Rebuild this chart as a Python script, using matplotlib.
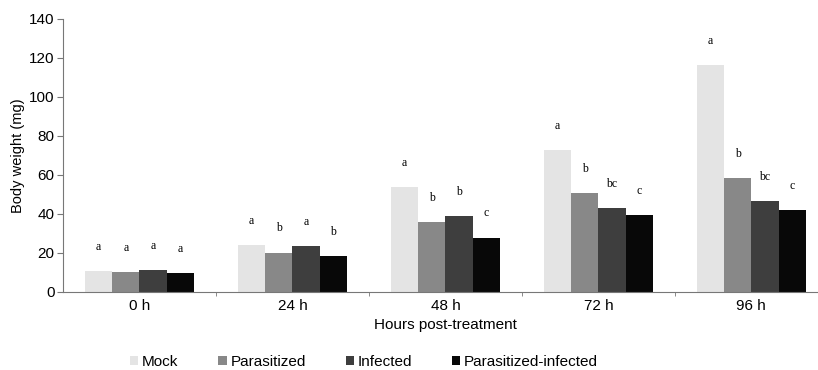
import numpy as np
import matplotlib
matplotlib.use("Agg")
import matplotlib.pyplot as plt

plt.rcParams['font.family'] = ['Liberation Sans', 'DejaVu Sans']

hours = ['0 h', '24 h', '48 h', '72 h', '96 h']
groups = ['Mock', 'Parasitized', 'Infected', 'Parasitized-infected']
mock = [10.9, 24.0, 53.6, 72.7, 116.3]
parasitized = [10.4, 20.2, 35.8, 50.9, 58.6]
infected = [11.3, 23.6, 39.0, 43.2, 46.4]
par_inf = [9.9, 18.6, 27.9, 39.4, 41.8]
letters = [
    ['a', 'a', 'a', 'a', 'a'],
    ['a', 'b', 'b', 'b', 'b'],
    ['a', 'a', 'b', 'bc', 'bc'],
    ['a', 'b', 'c', 'c', 'c'],
]
COLORS = ['#e4e4e4', '#888888', '#3e3e3e', '#080808']

fig = plt.figure(figsize=(8.18, 3.7), dpi=100)
ax = fig.add_axes([0.077, 0.211, 0.935, 0.738])

x = np.arange(len(hours))
w = 0.178
series = [mock, parasitized, infected, par_inf]
for i, (vals, col, name) in enumerate(zip(series, COLORS, groups)):
    pos = x + (i - 1.5) * w
    ax.bar(pos, vals, width=w, color=col, label=name, edgecolor='none')
    for p, v, lab in zip(pos, vals, letters[i]):
        ax.annotate(lab, (p, v), xytext=(0, 13), textcoords='offset points',
                    ha='center', va='bottom', fontsize=8.5, family='Liberation Serif')

ax.set_xlim(-0.5, 4.5)
ax.set_ylim(0, 140)
ax.set_yticks(range(0, 141, 20))
ax.set_xticks(x)
ax.set_xticklabels(hours, fontsize=11)
ax.set_xticks(np.arange(0.5, 4.5, 1), minor=True)
ax.tick_params(axis='x', which='major', length=0, pad=5)
ax.tick_params(axis='x', which='minor', length=3, color='#777777')
ax.tick_params(axis='y', labelsize=11, length=4, color='#777777', pad=2)
for s in ['top', 'right']:
    ax.spines[s].set_visible(False)
ax.spines['left'].set_color('#777777')
ax.spines['bottom'].set_color('#777777')

ax.set_ylabel('Body weight (mg)', fontsize=10.5, labelpad=3)
ax.set_xlabel('Hours post-treatment', fontsize=11, labelpad=4)

fig.legend(loc='center left', bbox_to_anchor=(0.142, 0.022), ncol=4, frameon=False,
           fontsize=11, handlelength=0.55, handleheight=0.55, handletextpad=0.25,
           columnspacing=2.6)

fig.savefig('out.png', dpi=100)
